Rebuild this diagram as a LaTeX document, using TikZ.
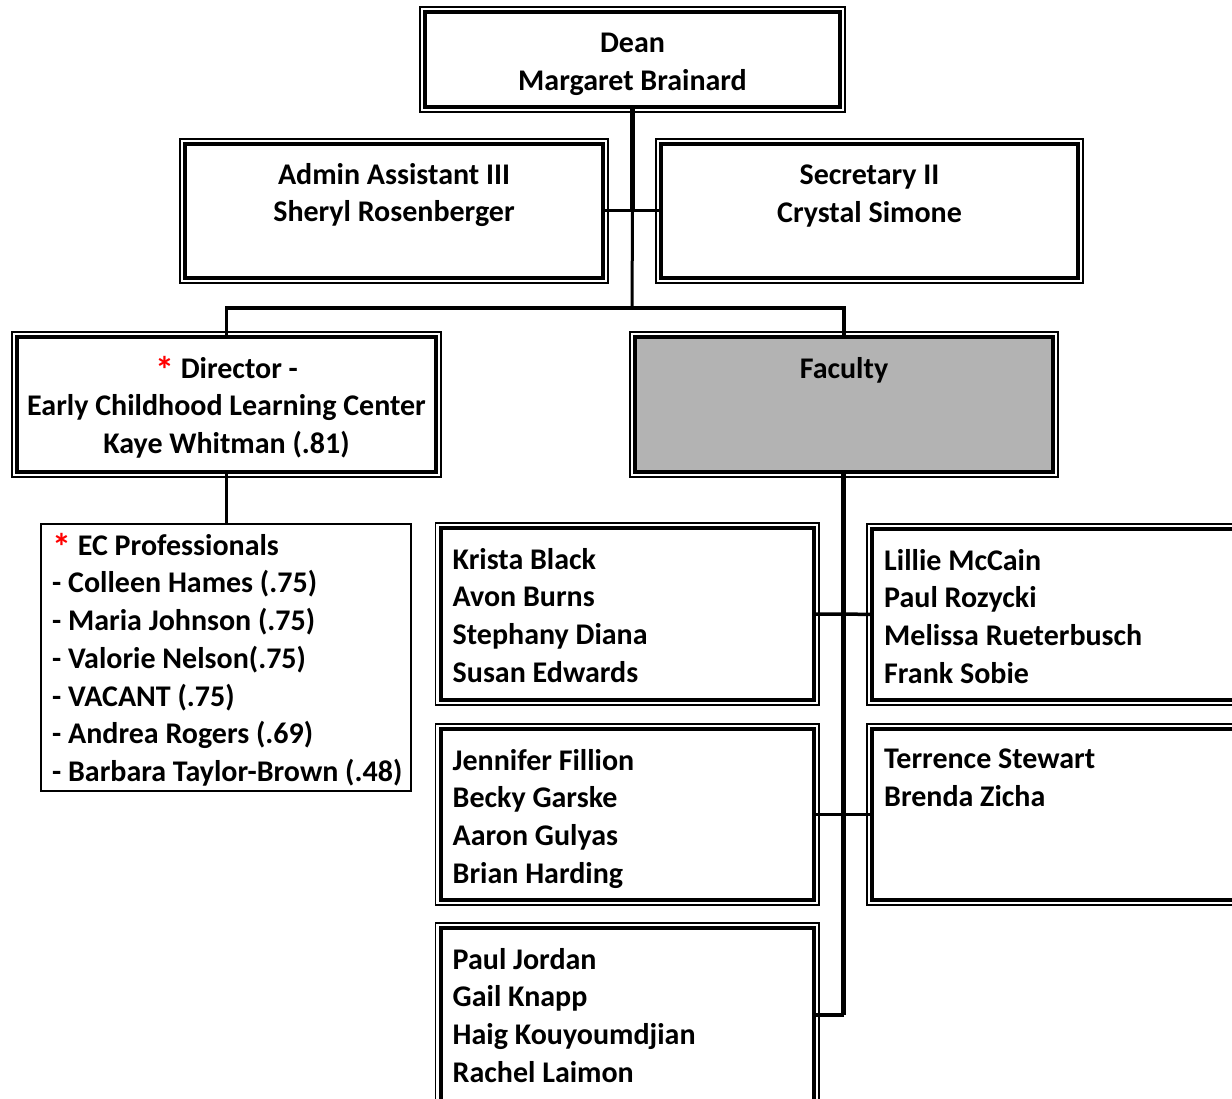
\documentclass[tikz,border=0pt]{standalone}
\usepackage{fontspec}
\setmainfont{Carlito}
\usetikzlibrary{positioning}
\definecolor{facgray}{RGB}{179,179,179}
\newcommand{\redstar}{\smash{\raisebox{-5pt}{\textcolor{red}{\fontsize{38}{37.7}\selectfont*}}}}
\tikzset{
  dbox/.style 2 args={draw, line width=4pt, minimum width=#1pt, minimum height=#2pt, inner sep=0pt, outer sep=0pt},
  ttl/.style={align=center, inner sep=0pt},
  lst/.style={align=left, inner sep=0pt},
  conn/.style={line width=3.5pt},
  heavy/.style={line width=4.5pt}
}
\begin{document}
\begin{tikzpicture}[x=1pt,y=-1pt,font=\fontsize{30}{37.7}\selectfont\bfseries,line join=miter]
	\useasboundingbox (0,0) rectangle (1232,1099);
	\clip (0,0) rectangle (1232,1099);
	% boxes
	\node[dbox={415}{95}] (dean) at (632.5,59.5) {};
	\node[dbox={418}{134}] (admin) at (394,211) {};
	\node[dbox={417}{134}] (secr) at (869.5,211) {};
	\node[dbox={419}{135}] (dir) at (226.5,404.5) {};
	\node[dbox={418}{135},fill=facgray] (fac) at (844,404.5) {};
	\node[draw,line width=1.3pt,minimum width=370pt,minimum height=267pt,inner sep=0pt,outer sep=0pt] (ec) at (226,657.5) {};
	\node[dbox={373.5}{172}] (f1) at (627.25,614) {};
	\node[dbox={384}{171}] (f2) at (1064,614.5) {};
	\node[dbox={373.5}{171}] (f3) at (627.25,814.5) {};
	\node[dbox={384}{171}] (f4) at (1064,814.5) {};
	\node[dbox={373.5}{180}] (f5) at (627.25,1018) {};
	\foreach \b in {dean,admin,secr,dir,fac,f1,f2,f3,f4,f5}
		\draw[line width=1.3pt] ([shift={(-5pt,5pt)}]\b.north west) rectangle ([shift={(5pt,-5pt)}]\b.south east);
	% texts
	\node[ttl,below=21pt of dean.north] (deantxt) {Dean\\Margaret Brainard};
	\node[ttl,below=19pt of admin.north] (admintxt) {Admin Assistant III\\Sheryl Rosenberger};
	\node[ttl,below=21pt of secr.north] (secrtxt) {Secretary II\\Crystal Simone};
	\node[ttl,below=20pt of dir.north] (dirtxt) {\redstar{} Director -\\Early Childhood Learning Center\\Kaye Whitman (.81)};
	\node[ttl,below=20pt of fac.north] (factxt) {Faculty};
	\node[lst,below right=10pt and 11pt of ec.north west] (ectxt) {\redstar{} EC Professionals\\- Colleen Hames (.75)\\- Maria Johnson (.75)\\- Valorie Nelson(.75)\\- VACANT (.75)\\- Andrea Rogers (.69)\\- Barbara Taylor-Brown (.48)};
	\node[lst,below right=20pt and 12pt of f1.north west] (f1txt) {Krista Black\\Avon Burns\\Stephany Diana\\Susan Edwards};
	\node[lst,below right=20pt and 12pt of f2.north west] (f2txt) {Lillie McCain\\Paul Rozycki\\Melissa Rueterbusch\\Frank Sobie};
	\node[lst,below right=20pt and 12pt of f3.north west] (f3txt) {Jennifer Fillion\\Becky Garske\\Aaron Gulyas\\Brian Harding};
	\node[lst,below right=20pt and 12pt of f4.north west] (f4txt) {Terrence Stewart\\Brenda Zicha};
	\node[lst,below right=20pt and 12pt of f5.north west] (f5txt) {Paul Jordan\\Gail Knapp\\Haig Kouyoumdjian\\Rachel Laimon};
	% connectors
	\coordinate (bus) at (632,308);
	\coordinate (facend) at (843.5,1015);
	\draw[heavy] (dean.south) -- (dean.south |- admin.east);
	\draw[line width=3pt] (admin.east) -- (secr.west);
	\draw[line width=3pt] (dean.south |- admin.east) -- (bus);
	\draw[conn] (dir.north) |- (bus) -| (fac.north);
	\draw[conn] (dir.south) -- (ec.north -| dir.south);
	\draw[heavy] (fac.south -| facend) -- (facend);
	\draw[conn] (f1.east) -- (f1.east -| facend) -- (f2.west);
	\draw[conn] (f3.east) -- (f3.east -| facend) -- (f4.west);
	\draw[conn] (facend) -- (facend -| f5.east);
\end{tikzpicture}
\end{document}
